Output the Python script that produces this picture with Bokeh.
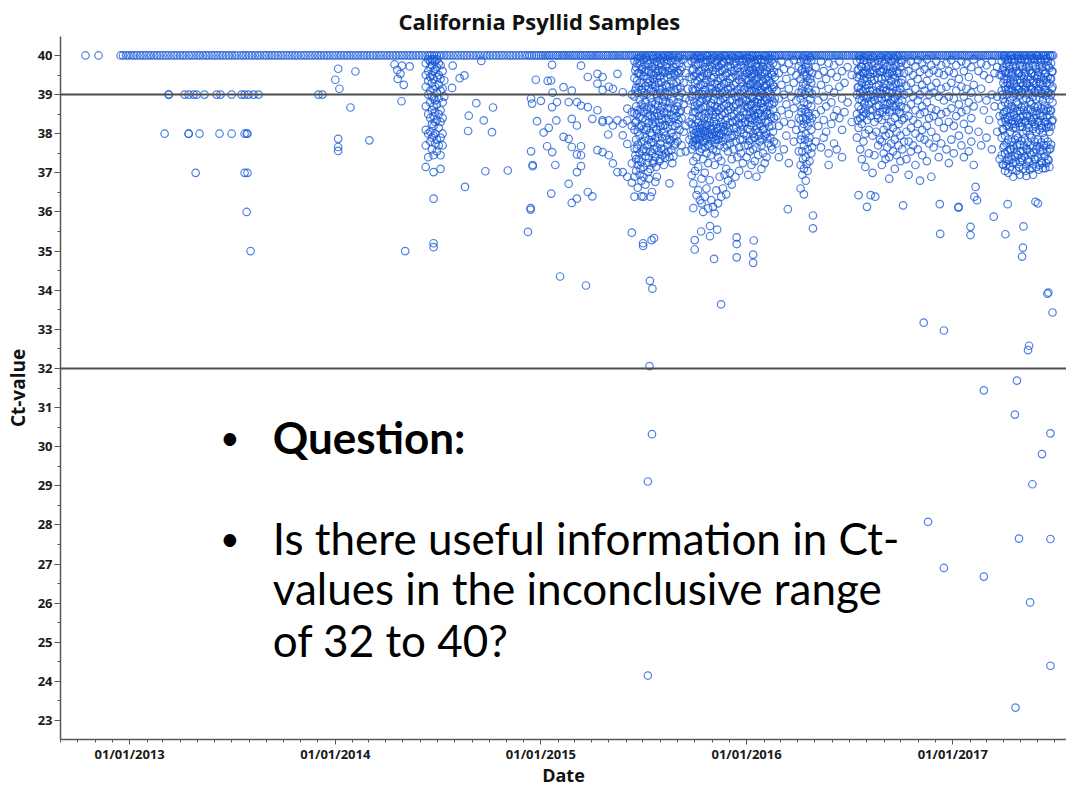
from datetime import datetime
from bokeh.plotting import figure
from bokeh.models import ColumnDataSource, Range1d, Span, Label, FixedTicker, DatetimeTickFormatter
from bokeh.embed import file_html
from bokeh.resources import INLINE

# ---------------- data ----------------
# Sampling dates with Ct = 40 (no amplification), as offsets within each year
band40_2012 = [.786, .849, .956, .968, .983, .995]
band40_2013 = [.009, .022, .036, .051, .063, .078, .092, .104, .119, .133, .146, .161, .175, .188, .203, .217,
               .230, .246, .259, .272, .288, .301, .315, .330, .342, .357, .371, .384, .399, .413, .427, .441,
               .454, .469, .483, .497, .511, .524, .540, .553, .566, .581, .595, .609, .623, .636, .652, .665,
               .679, .693, .706, .721, .735, .748, .763, .777, .791, .805, .818, .833, .847, .860, .875, .889,
               .903, .917, .930, .945, .959, .972, .987]
band40_2014 = [.001, .015, .028, .043, .057, .070, .085, .099, .112, .127, .141, .154, .169, .183, .197, .211,
               .224, .239, .253, .266, .281, .295, .309, .323, .336, .351, .365, .378, .393, .407, .421, .435,
               .449, .460, .471, .482, .493, .504, .515, .529, .543, .556, .571, .585, .598, .613, .627, .640,
               .655, .669, .683, .697, .710, .725, .739, .752, .767, .781, .795, .809, .822, .837, .851, .864,
               .879, .893, .907, .921, .934, .945, .956, .967, .978, .989]
band40_2015 = [.000, .010, .021, .031, .040, .051, .061, .072, .081, .091, .102, .112, .121, .132, .142, .153,
               .162, .172, .183, .193, .202, .213, .223, .234, .243, .253, .264, .274, .283, .294, .304, .315,
               .324, .334, .345, .355, .364, .375, .385, .396, .405, .415, .426, .436, .445, .456, .466, .477,
               .486, .496, .507, .517, .526, .537, .547, .558, .567, .577, .588, .598, .607, .618, .628, .639,
               .648, .658, .669, .679, .688, .699, .709, .720, .729, .739, .750, .760, .769, .780, .790, .801,
               .810, .820, .831, .841, .850, .861, .871, .882, .891, .901, .912, .922, .931, .942, .952, .963,
               .972, .982, .993]
band40_2016 = [.003, .013, .024, .034, .043, .054, .064, .075, .084, .094, .105, .115, .124, .135, .145, .156,
               .165, .175, .186, .196, .205, .216, .226, .237, .246, .256, .267, .277, .286, .297, .307, .318,
               .327, .337, .348, .358, .367, .378, .388, .399, .408, .418, .429, .439, .448, .459, .469, .480,
               .489, .499, .510, .520, .529, .540, .550, .561, .570, .580, .591, .601, .610, .621, .631, .642,
               .651, .661, .672, .682, .691, .702, .712, .723, .732, .742, .753, .763, .772, .783, .793, .804,
               .813, .823, .834, .844, .853, .864, .874, .885, .894, .904, .915, .925, .934, .945, .955, .966,
               .975, .985, .996]
band40_2017 = [.006, .016, .027, .037, .046, .057, .067, .078, .087, .097, .108, .118, .127, .138, .148, .159,
               .168, .178, .189, .199, .208, .219, .229, .240, .249, .259, .270, .280, .289, .300, .310, .321,
               .330, .340, .351, .361, .370, .381, .391, .402, .411, .421, .432, .442, .451, .462, .472, .481,
               .488]

# Samples with Ct below 40: (offset within year, [Ct-values on that date])
ct_2013 = [
    (.170, [38]), (.190, [39, 39]), (.267, [39]), (.287, [39, 38, 38]), (.311, [39]), (.321, [37]),
    (.326, [39]), (.340, [38]), (.364, [39]), (.423, [39]), (.437, [38]), (.442, [39]), (.496, [39, 38]),
    (.544, [39]), (.559, [39, 38, 37]), (.569, [38, 36]), (.573, [38, 37]), (.578, [39]), (.588, [35]),
    (.603, [39]), (.627, [39]), (.918, [39]), (.938, [39]),
]
ct_2014 = [
    (.000, [39.38]), (.014, [39.66, 37.87, 37.66, 37.56]), (.020, [39.15]), (.074, [38.67]),
    (.098, [39.59]), (.166, [37.83]), (.288, [39.77]), (.301, [39.63]), (.304, [39.40]), (.317, [39.53]),
    (.322, [38.83]), (.325, [39.74]), (.333, [39.25]), (.340, [35.00]), (.362, [39.72]),
    (.440, [39.80, 39.50, 39.20, 38.70, 38.10, 37.70, 37.15]),
    (.452, [39.90, 39.60, 39.35, 39.00, 38.50, 38.00, 37.40]),
    (.462, [39.85, 39.70, 39.45, 39.10, 38.80, 38.40, 38.05, 37.80]),
    (.470, [39.90, 39.75, 39.50, 39.30, 38.95, 38.60, 38.25, 37.90, 37.60]),
    (.478, [39.90, 39.60, 39.40, 39.15, 38.90, 38.70, 38.45, 38.20, 37.95, 37.45, 37.02, 36.34, 35.20, 35.10]),
    (.486, [39.85, 39.65, 39.20, 38.85, 38.55, 38.30, 38.00, 37.75]),
    (.494, [39.90, 39.70, 39.45, 39.05, 38.75, 38.35, 37.85, 37.55]),
    (.503, [39.80, 39.50, 39.25, 38.90, 38.50, 38.15, 37.70]),
    (.512, [39.75, 39.40, 39.10, 38.60, 38.30, 37.90, 37.45, 37.10]),
    (.522, [39.60, 39.15, 38.80, 38.40, 38.00, 37.70]),
    (.530, [39.36, 38.95]), (.568, [39.17]), (.571, [39.74]), (.605, [39.42]), (.628, [39.49]),
    (.631, [36.64]), (.646, [38.07]), (.649, [38.46]), (.686, [38.78]), (.710, [39.86]), (.722, [38.34]),
    (.730, [37.04]), (.762, [38.04]), (.767, [38.67]), (.839, [37.06]), (.937, [35.49]),
    (.950, [36.10, 36.06]), (.952, [38.90, 37.55]), (.957, [38.77]), (.960, [37.20, 37.17]),
    (.975, [39.38]), (.981, [38.32]),
]
ct_2015 = [
    (.000, [38.84]), (.013, [38.03]), (.030, [37.68]), (.033, [39.35]), (.038, [38.15]), (.049, [39.36]),
    (.050, [36.47]), (.054, [39.76, 38.68]), (.055, [37.53]), (.057, [39.05]), (.070, [37.20]),
    (.075, [38.34]), (.078, [38.81]), (.093, [34.35]), (.110, [39.19, 37.92]),
    (.135, [38.81, 37.87, 36.72]), (.150, [39.10, 38.38, 37.66, 36.23]),
    (.175, [38.81, 38.21, 37.47, 37.02, 36.34]), (.195, [39.74, 38.72, 37.68, 37.45, 37.17]),
    (.219, [34.12]), (.228, [39.45, 38.68, 36.51]), (.250, [38.38, 36.40]),
    (.275, [39.53, 39.28, 38.60, 37.58]), (.300, [39.45, 39.12, 38.34, 38.30, 37.53]), (.327, [37.98]),
    (.330, [39.20, 38.34, 37.45]), (.350, [39.15, 38.21, 37.24]), (.372, [39.53, 38.34, 37.02]),
    (.398, [39.06, 38.26, 37.96, 37.02]), (.420, [38.34, 38.64, 37.74, 36.90]),
    (.442, [39.00, 38.55, 38.20, 37.24, 36.75, 35.47]),
    (.455, [39.85, 39.42, 38.95, 38.52, 38.10, 37.62, 36.90, 36.39]),
    (.459, [39.62, 39.10, 38.28, 37.45]),
    (.463, [39.70, 39.18, 38.70, 38.31, 37.85, 37.35, 37.05]),
    (.467, [39.80, 39.35, 38.50, 37.62]),
    (.471, [39.92, 39.55, 39.05, 38.60, 38.05, 37.72, 37.20, 36.62]),
    (.476, [39.55, 39.20, 38.18, 37.35]),
    (.480, [39.80, 39.30, 38.88, 38.42, 37.95, 37.50, 36.95]),
    (.484, [39.95, 39.52, 38.62, 37.10]),
    (.489, [39.65, 39.12, 38.75, 38.20, 37.80, 37.28, 36.80, 36.40]),
    (.494, [39.70, 39.30, 38.40, 37.55]),
    (.497, [35.20, 35.13]),
    (.499, [39.90, 39.48, 38.98, 38.55, 38.12, 37.60, 37.15, 36.90, 36.39]),
    (.503, [39.58, 39.05, 38.68, 37.82]),
    (.508, [39.75, 39.22, 38.82, 38.35, 37.90, 37.42, 36.70]),
    (.512, [39.95, 39.62, 38.10, 37.55]),
    (.517, [39.88, 39.40, 39.02, 38.60, 38.15, 37.70, 37.25]),
    (.520, [29.11, 24.15]),
    (.521, [39.78, 39.30, 38.45, 37.02]),
    (.525, [39.60, 39.15, 38.70, 38.28, 37.85, 37.38, 36.85]),
    (.528, [32.06]), (.530, [34.24]),
    (.532, [39.82, 39.35, 38.92, 38.48, 38.02, 37.55, 37.10, 36.39]),
    (.536, [39.55, 39.10, 38.65, 37.78]),
    (.538, [35.28]),
    (.540, [39.70, 39.25, 38.80, 38.40, 37.95, 37.50, 36.51, 30.32]),
    (.542, [34.04]),
    (.544, [39.98, 39.40, 38.25, 37.25]),
    (.548, [39.92, 39.50, 39.08, 38.62, 38.18, 37.78, 37.30]),
    (.550, [35.33]),
    (.552, [39.78, 39.32, 38.45, 37.60]),
    (.556, [39.65, 39.20, 38.75, 38.30, 37.88, 37.40, 36.77]),
    (.560, [39.55, 39.02, 38.12, 37.15]),
    (.564, [39.85, 39.42, 38.98, 38.52, 38.10, 37.65, 36.90]),
    (.568, [39.95, 39.60, 38.72, 37.90]),
    (.572, [39.75, 39.30, 38.85, 38.45, 38.00, 37.55]),
    (.576, [39.62, 39.12, 38.28, 37.30]),
    (.580, [39.90, 39.48, 39.05, 38.60, 38.20, 37.75, 37.35]),
    (.585, [39.80, 39.32, 38.48, 37.62]),
    (.589, [39.62, 39.18, 38.70, 38.35, 37.90, 37.45]),
    (.594, [39.95, 39.58, 38.82, 38.20]),
    (.598, [39.85, 39.40, 38.95, 38.55, 38.05, 37.60, 37.20]),
    (.603, [39.55, 39.05, 38.22, 37.38]),
    (.607, [39.72, 39.25, 38.82, 38.40, 37.95, 37.50]),
    (.612, [39.78, 39.20, 38.52, 37.85]),
    (.616, [39.90, 39.45, 39.00, 38.65, 38.15, 37.70]),
    (.620, [39.98, 39.60, 38.38, 37.55]),
    (.625, [39.68, 39.20, 38.78, 38.30, 37.85, 37.40, 36.73]),
    (.630, [39.50, 39.08, 38.65, 37.80]),
    (.634, [39.85, 39.35, 38.90, 38.48, 38.02, 37.58]),
    (.639, [39.95, 39.62, 38.20, 37.25]),
    (.644, [39.70, 39.28, 38.85, 38.40, 37.92, 37.42]),
    (.649, [39.55, 39.12, 38.62, 37.70]),
    (.654, [39.88, 39.50, 39.05, 38.60, 38.20, 37.75]),
    (.659, [39.78, 39.32, 38.45, 37.95]),
    (.664, [39.60, 39.15, 38.70, 38.25, 37.80]),
    (.669, [39.95, 39.55, 38.80, 38.35]),
    (.674, [39.80, 39.38, 38.95, 38.55, 38.10]),
    (.679, [39.62, 39.18, 38.60, 37.52]),
    (.684, [39.70, 39.05, 38.40, 37.70]), (.694, [39.90, 39.30, 38.75, 38.05]),
    (.704, [39.55, 38.90, 38.20, 37.55]), (.714, [39.80, 39.15, 38.60]),
    (.722, [39.45, 38.85, 38.30, 37.85]),
    (.733, [39.85, 39.40, 38.95, 38.25, 37.95, 37.60, 36.94]),
    (.737, [39.62, 39.15, 38.40, 37.72]),
    (.741, [39.65, 39.10, 38.55, 38.10, 37.80, 37.30, 36.73, 36.10]),
    (.745, [39.95, 39.48, 38.82, 38.00]),
    (.748, [35.28, 35.04]),
    (.749, [39.90, 39.30, 38.70, 38.20, 37.90, 37.68, 37.05]),
    (.753, [39.75, 39.10, 38.55, 37.85]),
    (.757, [39.55, 38.98, 38.35, 38.05, 37.75, 37.40, 36.43]),
    (.761, [39.98, 39.35, 38.75, 38.12]),
    (.765, [39.78, 39.20, 38.62, 38.28, 37.98, 37.70, 37.15, 36.56]),
    (.769, [39.60, 39.02, 38.45, 37.88]),
    (.773, [39.92, 39.45, 38.80, 38.15, 37.85, 37.55, 36.30]),
    (.777, [39.80, 39.25, 38.65, 38.02]),
    (.779, [35.50]),
    (.781, [39.60, 39.02, 38.45, 38.22, 37.92, 37.62, 36.85, 36.22]),
    (.785, [39.95, 39.48, 38.90, 38.15]),
    (.789, [39.82, 39.25, 38.68, 38.08, 37.78, 37.35, 36.00]),
    (.793, [39.55, 39.00, 38.40, 37.82]),
    (.797, [39.70, 39.12, 38.50, 38.25, 37.95, 37.65, 37.00, 36.39]),
    (.801, [39.82, 39.30, 38.70, 38.05]),
    (.805, [39.88, 39.38, 38.85, 38.18, 37.88, 37.50, 36.60]),
    (.809, [39.98, 39.52, 38.92, 38.22]),
    (.813, [39.55, 38.95, 38.40, 38.02, 37.72, 37.25, 36.09]),
    (.817, [39.65, 39.05, 38.50, 37.92]),
    (.821, [39.75, 39.18, 38.60, 38.28, 37.98, 37.68, 36.81]),
    (.822, [35.64, 35.38]),
    (.825, [39.88, 39.32, 38.72, 38.10]),
    (.829, [39.92, 39.42, 38.78, 38.12, 37.82, 37.45, 36.30]),
    (.833, [39.70, 39.15, 38.58, 37.98]),
    (.837, [39.62, 39.05, 38.48, 38.20, 37.90, 37.60, 36.13]),
    (.841, [39.95, 39.45, 38.88, 38.32]),
    (.842, [34.80]),
    (.845, [39.80, 39.28, 38.70, 38.05, 37.75, 37.20, 35.96]),
    (.849, [39.58, 39.02, 38.42, 37.85]),
    (.853, [39.68, 39.10, 38.55, 38.25, 37.95, 37.55, 36.55]),
    (.857, [35.55, 39.85, 39.25, 38.68, 38.12]),
    (.861, [39.90, 39.35, 38.82, 38.15, 37.85, 37.40, 36.22]),
    (.865, [39.72, 39.18, 38.60, 37.95]),
    (.869, [39.58, 39.00, 38.42, 38.00, 37.70, 36.90]),
    (.873, [39.95, 39.42, 38.85, 38.18]),
    (.876, [33.64]),
    (.877, [39.78, 39.20, 38.65, 38.30, 37.98, 37.30, 36.39]),
    (.881, [39.62, 39.05, 38.48, 37.90]),
    (.885, [39.85, 39.45, 38.90, 38.18, 37.80, 36.60]),
    (.889, [39.82, 39.28, 38.72, 38.08]),
    (.893, [39.65, 39.08, 38.52, 38.10, 37.65, 36.95]),
    (.897, [39.98, 39.50, 38.95, 38.35]),
    (.901, [39.90, 39.30, 38.75, 38.22, 37.88, 37.10, 36.45]),
    (.905, [39.55, 39.02, 38.40, 37.70]),
    (.910, [39.72, 39.15, 38.60, 38.05, 37.55, 36.80]),
    (.914, [39.90, 39.30, 38.70, 38.15]),
    (.919, [39.85, 39.40, 38.85, 38.28, 37.75, 37.00]),
    (.923, [39.70, 39.18, 38.62, 37.90]),
    (.928, [39.60, 39.05, 38.45, 37.95, 37.35, 36.70]),
    (.932, [39.95, 39.45, 38.85, 38.30]),
    (.937, [39.80, 39.25, 38.70, 38.15, 37.60]),
    (.941, [39.60, 39.05, 38.50, 37.95]),
    (.946, [39.92, 39.50, 38.95, 38.35, 37.80, 36.90]),
    (.950, [39.82, 39.30, 38.75, 38.15]),
    (.952, [35.35, 35.18, 34.84]),
    (.955, [39.68, 39.12, 38.58, 38.05, 37.40]),
    (.959, [39.98, 39.50, 38.95, 38.40]),
    (.964, [39.88, 39.38, 38.80, 38.25, 37.65, 37.05]),
    (.968, [39.58, 39.02, 38.45, 37.85]),
    (.973, [39.75, 39.20, 38.65, 38.10, 37.50]),
    (.977, [39.85, 39.32, 38.78, 38.22]),
    (.982, [39.90, 39.45, 38.90, 38.40, 37.85, 37.25]),
    (.986, [39.68, 39.12, 38.55, 38.00]),
    (.991, [39.62, 39.15, 38.72, 38.28, 37.70]),
    (.995, [39.92, 39.40, 38.85, 38.30]),
]
ct_2016 = [
    (.000, [39.85, 39.55, 39.20, 38.85, 38.50, 37.95, 37.40]),
    (.004, [39.95, 39.38, 38.68, 38.12]),
    (.008, [39.70, 39.35, 39.00, 38.65, 38.30, 37.70, 36.95]),
    (.012, [39.62, 39.10, 38.40, 37.82]),
    (.016, [39.92, 39.60, 39.25, 38.90, 38.55, 38.10, 37.55]),
    (.020, [39.82, 39.28, 38.72, 38.22]),
    (.024, [39.78, 39.45, 39.10, 38.75, 38.40, 37.85, 37.20]),
    (.028, [39.98, 39.52, 38.92, 38.35]),
    (.032, [39.65, 39.30, 38.95, 38.60, 38.00, 37.60, 34.91, 34.70]),
    (.035, [35.27]),
    (.036, [39.55, 39.08, 38.48, 37.90]),
    (.040, [39.88, 39.52, 39.18, 38.82, 38.45, 37.90, 37.30]),
    (.044, [39.78, 39.25, 38.62, 38.10]),
    (.048, [39.72, 39.40, 39.05, 38.70, 38.20, 37.65, 36.90]),
    (.052, [39.98, 39.45, 38.80, 38.32]),
    (.056, [39.90, 39.58, 39.22, 38.88, 38.52, 38.05, 37.45]),
    (.060, [39.70, 39.12, 38.52, 37.95]),
    (.064, [39.62, 39.28, 38.95, 38.60, 38.25, 37.80]),
    (.068, [39.90, 39.35, 38.78, 38.20]),
    (.072, [39.82, 39.48, 39.12, 38.78, 38.35, 37.70, 37.10]),
    (.076, [39.58, 39.05, 38.45, 37.85]),
    (.080, [39.70, 39.35, 39.00, 38.65, 38.10, 37.50]),
    (.084, [39.82, 39.22, 38.68, 38.12]),
    (.088, [39.88, 39.55, 39.20, 38.85, 38.45, 37.95, 37.25]),
    (.092, [39.98, 39.40, 38.95, 38.30]),
    (.097, [39.60, 39.25, 38.90, 38.55, 38.00, 37.40]),
    (.101, [39.70, 39.10, 38.50, 37.88]),
    (.106, [39.80, 39.45, 39.10, 38.70, 38.30, 37.75]),
    (.110, [39.92, 39.35, 38.78, 38.18]),
    (.115, [39.68, 39.30, 38.92, 38.50, 37.90]),
    (.119, [39.55, 39.02, 38.42, 37.68]),
    (.124, [39.90, 39.50, 39.15, 38.75, 38.20, 37.60]),
    (.128, [39.80, 39.25, 38.62, 38.05]),
    (.133, [39.58, 39.20, 38.80, 38.40, 37.80]),
    (.137, [39.98, 39.45, 38.90]),
    (.145, [39.75, 39.10, 38.45, 37.75]), (.157, [39.55, 38.90, 38.20, 37.40]),
    (.169, [39.85, 39.25, 38.60]), (.181, [39.65, 39.00, 38.30, 37.60]), (.193, [39.40, 38.75, 37.95]),
    (.200, [36.07]), (.205, [39.80, 39.15, 38.50, 37.25]), (.217, [39.60, 38.95, 38.25]),
    (.229, [39.88, 39.30, 38.65, 37.80]), (.241, [39.50, 38.85, 38.10]), (.253, [39.72, 39.05, 38.40, 37.55]),
    (.262, [39.85, 39.40, 38.90, 38.35, 37.85, 37.20, 36.60]),
    (.266, [39.62, 39.05, 38.55, 37.95]),
    (.270, [39.65, 39.15, 38.65, 38.15, 37.55, 36.95]),
    (.274, [39.95, 39.28, 38.40, 37.35]),
    (.278, [39.90, 39.50, 38.80, 38.25, 37.70, 37.10, 36.45]),
    (.283, [39.58, 39.02, 38.62, 37.85]),
    (.287, [39.70, 39.25, 38.55, 38.00, 37.40, 36.80]),
    (.291, [39.88, 39.48, 38.35, 37.22]),
    (.296, [39.80, 39.35, 38.75, 38.20, 37.60, 37.05]),
    (.300, [39.68, 39.15, 38.52, 37.78]),
    (.305, [39.60, 39.05, 38.45, 37.90, 37.30]),
    (.309, [39.95, 39.40, 38.88, 38.30]),
    (.314, [39.88, 39.30, 38.70, 38.10, 37.50]),
    (.318, [39.55, 39.02, 38.40, 37.65]),
    (.322, [35.91, 35.58]),
    (.335, [39.70, 39.10, 38.50, 37.80]), (.348, [39.50, 38.85, 38.20]), (.361, [39.85, 39.25, 38.60, 37.65]),
    (.374, [39.60, 38.95, 38.35, 37.90]), (.386, [39.40, 38.70, 38.05]), (.398, [39.80, 39.15, 37.50, 37.20]),
    (.411, [39.55, 38.80, 38.25]), (.424, [39.75, 39.05, 38.45, 37.75]), (.437, [39.45, 38.60, 37.60]),
    (.450, [39.85, 39.20, 38.40]), (.463, [39.60, 38.90, 38.10, 37.40]), (.475, [39.30, 38.55]),
    (.490, [39.70, 38.80]), (.510, [39.50, 38.30]),
    (.535, [39.85, 39.45, 39.00, 38.50, 37.90]), (.539, [39.62, 39.18, 38.35]),
    (.543, [39.65, 39.20, 38.70, 38.15, 36.43]), (.547, [39.98, 39.42, 38.88]),
    (.551, [39.90, 39.50, 39.05, 38.40, 37.60]), (.555, [39.72, 39.15, 38.62]),
    (.559, [39.70, 39.30, 38.85, 38.25, 37.35]), (.563, [39.55, 39.08, 38.45]),
    (.567, [39.88, 39.40, 38.95, 38.55, 37.80]), (.571, [39.95, 39.55, 38.78]),
    (.576, [39.60, 39.15, 38.65, 38.00, 37.15]), (.580, [39.70, 39.25, 38.52]),
    (.584, [39.82, 39.35, 38.90, 38.35, 36.13]), (.589, [39.98, 39.52, 38.98]),
    (.593, [39.72, 39.25, 38.75, 38.10, 37.50]), (.598, [39.58, 39.10, 38.60]),
    (.602, [39.90, 39.45, 39.00, 38.45, 36.43]), (.606, [39.80, 39.35, 38.82]),
    (.611, [39.62, 39.10, 38.60, 37.95, 37.00]), (.615, [39.95, 39.55, 38.95]),
    (.620, [39.80, 39.38, 38.85, 38.30, 37.45]), (.624, [36.39]), (.629, [39.68, 39.20, 38.70, 38.05]),
    (.633, [39.55, 39.05, 38.48]), (.638, [39.88, 39.42, 38.92, 38.40, 37.70]),
    (.642, [39.75, 39.25, 38.72]), (.647, [39.58, 39.12, 38.55, 37.85]), (.651, [39.95, 39.60, 39.02]),
    (.656, [39.85, 39.40, 38.90, 38.35, 37.80, 37.20]), (.660, [39.58, 39.02, 38.55]),
    (.665, [39.65, 39.18, 38.65, 38.10, 37.50]), (.669, [39.78, 39.28, 38.75]),
    (.674, [39.90, 39.45, 38.95, 38.45, 37.95, 37.35]), (.678, [39.55, 39.10, 38.62]),
    (.683, [39.72, 39.25, 38.75, 38.20, 37.65]), (.687, [39.95, 39.48, 38.95]),
    (.692, [39.55, 39.05, 38.55, 38.00, 37.40, 36.85]), (.696, [39.72, 39.22, 38.78]),
    (.701, [39.85, 39.35, 38.85, 38.30, 37.75]), (.705, [39.58, 39.05, 38.60]),
    (.710, [39.68, 39.20, 38.70, 38.15, 37.55]), (.714, [39.95, 39.50, 38.88]),
    (.719, [39.90, 39.42, 38.92, 38.40, 37.85, 37.10]), (.723, [39.75, 39.28, 38.70]),
    (.728, [39.60, 39.10, 38.60, 38.05, 37.45]), (.732, [39.98, 39.55, 39.00]),
    (.737, [39.80, 39.30, 38.80, 38.25, 37.70]), (.741, [39.55, 39.05, 38.55]),
    (.746, [39.70, 39.15, 38.50, 37.95, 37.30]), (.750, [39.82, 39.30, 38.70]),
    (.755, [39.88, 39.38, 38.85, 38.35, 37.60]),
    (.759, [36.17]), (.764, [39.55, 39.00, 38.40, 37.80]),
    (.775, [39.78, 39.22, 38.65, 38.05, 37.35]), (.786, [39.60, 39.05, 38.45, 37.80, 36.95]),
    (.797, [39.85, 39.30, 38.75, 38.15, 37.55]), (.808, [39.50, 38.95, 38.35, 37.70]),
    (.819, [39.72, 39.15, 38.60, 38.00, 37.20]), (.830, [39.88, 39.40, 38.85, 38.25, 37.60]),
    (.841, [39.58, 39.00, 38.50, 37.90, 36.80]), (.852, [39.80, 39.25, 38.70, 38.10, 37.45]),
    (.859, [33.17]), (.863, [39.65, 39.10, 38.55, 37.85]), (.874, [39.90, 39.35, 38.80, 38.20, 37.30]),
    (.880, [28.08]), (.885, [39.55, 39.00, 38.40, 37.75]), (.896, [39.75, 39.20, 38.65, 38.05, 36.90]),
    (.907, [39.62, 39.05, 38.45, 37.65]),
    (.920, [39.85, 39.30, 38.60, 37.90]), (.932, [39.55, 38.95, 38.30, 37.40]), (.937, [36.20]),
    (.939, [35.44]), (.944, [39.75, 39.15, 38.50, 37.75]), (.957, [39.50, 38.85, 38.15, 32.97, 26.90]),
    (.969, [39.80, 39.20, 38.55, 37.60]), (.981, [39.60, 38.95, 38.30, 37.25]),
    (.993, [39.88, 39.30, 38.65, 37.85]),
]
ct_2017 = [
    (.005, [39.55, 38.90, 38.20, 37.50]), (.017, [39.75, 39.10, 38.45]), (.028, [36.13, 36.11]),
    (.030, [39.40, 38.75, 37.95]), (.042, [39.85, 39.20, 38.55, 37.70]), (.054, [39.60, 38.95, 38.25, 37.40]),
    (.066, [39.80, 39.15, 38.60]), (.078, [39.45, 38.80, 38.10, 37.55]), (.086, [35.62, 35.41]),
    (.090, [39.70, 39.05, 38.40, 37.80]), (.102, [39.90, 39.25, 38.70, 37.20]), (.105, [36.39]),
    (.111, [36.64]), (.118, [36.30]),
    (.125, [39.60, 38.90, 38.05]), (.138, [39.80, 39.15, 37.70]), (.151, [39.50, 38.60, 31.44, 26.68]),
    (.164, [39.75, 38.85, 37.90]), (.177, [39.40, 38.35]), (.190, [39.85, 39.00, 37.60]), (.199, [35.88]),
    (.203, [39.55, 38.70]), (.216, [39.70, 38.95, 38.05]), (.228, [39.50, 38.45, 37.35]),
    (.238, [39.85, 39.50, 39.10, 38.70, 38.30, 37.90, 37.45]),
    (.242, [39.62, 39.00, 38.12, 37.22]),
    (.246, [39.70, 39.30, 38.90, 38.50, 38.10, 37.65, 37.20]),
    (.250, [39.98, 39.40, 38.55, 37.70]),
    (.254, [39.92, 39.60, 39.20, 38.80, 38.40, 37.95, 37.50, 37.05]),
    (.256, [35.43]),
    (.258, [39.55, 39.12, 38.30, 37.18]),
    (.262, [39.78, 39.40, 39.00, 38.60, 38.20, 37.75, 37.30]),
    (.266, [39.90, 39.30, 38.42, 37.55]),
    (.267, [36.20]),
    (.270, [39.88, 39.55, 39.15, 38.75, 38.35, 37.85, 37.40, 37.00]),
    (.274, [39.72, 39.10, 38.18, 37.32]),
    (.278, [39.65, 39.25, 38.85, 38.45, 38.05, 37.60, 37.15]),
    (.282, [39.98, 39.38, 38.62, 37.60]),
    (.286, [39.90, 39.50, 39.10, 38.70, 38.25, 37.80, 37.35]),
    (.290, [39.58, 39.15, 38.35, 37.08]),
    (.294, [39.72, 39.35, 38.95, 38.55, 38.15, 37.70, 37.25, 36.90]),
    (.298, [39.92, 39.28, 38.48, 37.62]),
    (.302, [39.85, 39.45, 39.05, 38.65, 38.25, 37.85, 37.40, 30.82]),
    (.305, [23.33]),
    (.306, [39.70, 39.02, 38.15, 37.28]),
    (.310, [39.60, 39.20, 38.80, 38.40, 37.95, 37.50, 37.05]),
    (.312, [31.69]),
    (.314, [39.98, 39.38, 38.58, 37.72]),
    (.318, [39.92, 39.55, 39.15, 38.75, 38.35, 37.90, 37.45]),
    (.322, [27.65, 39.55, 39.12, 38.28, 37.15]),
    (.326, [39.75, 39.38, 38.98, 38.58, 38.18, 37.72, 37.28, 36.95]),
    (.330, [39.92, 39.30, 38.42, 37.55]),
    (.334, [39.88, 39.48, 39.08, 38.68, 38.28, 37.82, 37.38]),
    (.337, [34.86]), (.341, [35.09]), (.344, [35.63]),
    (.338, [39.72, 39.05, 38.18, 37.32]),
    (.342, [39.65, 39.25, 38.85, 38.45, 38.00, 37.55, 37.10]),
    (.346, [39.98, 39.40, 38.60, 37.68]),
    (.350, [39.90, 39.52, 39.12, 38.72, 38.32, 37.88, 37.42]),
    (.354, [39.58, 39.18, 38.32, 37.05]),
    (.358, [39.70, 39.30, 38.90, 38.50, 38.08, 37.62, 37.18, 36.92]),
    (.362, [39.92, 39.28, 38.45, 37.58]),
    (.366, [39.85, 39.45, 39.05, 38.62, 38.22, 37.78, 37.32, 32.47]),
    (.370, [39.70, 39.02, 38.15, 37.28]),
    (.371, [32.58]),
    (.374, [39.62, 39.22, 38.82, 38.42, 37.98, 37.52, 37.08]),
    (.376, [26.02]),
    (.378, [39.98, 39.38, 38.62, 37.70]),
    (.382, [39.92, 39.55, 39.15, 38.75, 38.35, 37.90, 37.45]),
    (.386, [39.55, 39.12, 38.30, 37.12]),
    (.387, [29.04]),
    (.390, [39.75, 39.35, 38.95, 38.55, 38.12, 37.68, 37.22, 36.95]),
    (.394, [39.92, 39.30, 38.40, 37.52]),
    (.398, [39.88, 39.48, 39.08, 38.68, 38.25, 37.80, 37.35]),
    (.402, [36.26, 39.72, 39.05, 38.18, 37.35]),
    (.406, [39.65, 39.28, 38.88, 38.48, 38.05, 37.60, 37.15]),
    (.410, [39.98, 39.40, 38.58, 37.68]),
    (.414, [39.90, 39.50, 39.10, 38.70, 38.30, 37.85, 37.40, 36.22]),
    (.418, [39.58, 39.15, 38.32, 37.08]),
    (.422, [39.72, 39.32, 38.92, 38.52, 38.10, 37.65, 37.20]),
    (.426, [39.92, 39.28, 38.45, 37.55]),
    (.430, [39.85, 39.45, 39.05, 38.65, 38.22, 37.78, 37.30]),
    (.434, [29.81, 39.70, 39.02, 38.15, 37.25]),
    (.438, [39.62, 39.25, 38.85, 38.45, 38.02, 37.58, 37.12]),
    (.442, [39.98, 39.38, 38.62, 37.70]),
    (.446, [39.90, 39.52, 39.12, 38.72, 38.30, 37.88, 37.42]),
    (.450, [39.55, 39.12, 38.30, 37.12]),
    (.454, [39.75, 39.38, 38.98, 38.58, 38.15, 37.70, 37.25]),
    (.458, [39.92, 39.30, 38.42, 37.55]),
    (.460, [33.91]),
    (.462, [39.85, 39.45, 39.05, 38.65, 38.25, 37.80, 37.35]),
    (.465, [33.94]),
    (.466, [39.72, 39.05, 38.18, 37.32]),
    (.470, [39.68, 39.28, 38.88, 38.48, 38.05, 37.60, 37.15]),
    (.474, [39.98, 39.40, 38.58, 37.62]),
    (.475, [30.34, 27.64, 24.40]),
    (.478, [39.80, 39.40, 39.00, 38.60, 38.18, 37.72]),
    (.482, [39.58, 39.15, 38.32]),
    (.485, [39.60, 39.20, 38.80, 38.35, 33.43]),
]

y_tick_values = list(range(23, 41))
x_tick_years = [2013, 2014, 2015, 2016, 2017]
threshold_lines = [39, 32]

# ---------------- build ----------------
def to_dt(year, offset):
    start = datetime(year, 1, 1)
    end = datetime(year + 1, 1, 1)
    return start + (end - start) * offset

EPOCH = datetime(1970, 1, 1)
def ms(d):
    return (d - EPOCH).total_seconds() * 1000.0

band40 = {2012: band40_2012, 2013: band40_2013, 2014: band40_2014,
          2015: band40_2015, 2016: band40_2016, 2017: band40_2017}
cloud = {2013: ct_2013, 2014: ct_2014, 2015: ct_2015, 2016: ct_2016, 2017: ct_2017}

xs, ys = [], []
for yr, offs in band40.items():
    for o in offs:
        xs.append(to_dt(yr, o)); ys.append(40.0)
for yr, groups in cloud.items():
    for o, vals in groups:
        for v in vals:
            xs.append(to_dt(yr, o)); ys.append(float(v))

src = ColumnDataSource(data=dict(date=xs, ct=ys))

p = figure(width=1066, height=789, x_axis_type="datetime", output_backend="svg",
           toolbar_location=None,
           x_range=Range1d(to_dt(2012, .6647), to_dt(2017, .553)),
           y_range=Range1d(22.515, 40.485),
           min_border_left=60, min_border_right=0, min_border_top=36, min_border_bottom=49)
p.outline_line_color = None
p.xgrid.visible = False
p.ygrid.visible = False

p.title.text = "California Psyllid Samples"
p.title.align = "left"
p.title.offset = 338
p.title.text_font = "Open Sans"
p.title.text_font_size = "22px"
p.title.text_font_style = "bold"
p.title.text_color = "#111111"
p.title.standoff = 2

p.scatter(x="date", y="ct", source=src, marker="circle", size=7.5,
          fill_color=None, line_color="#1556d6", line_alpha=0.75, line_width=1.2)

for lv in threshold_lines:
    p.add_layout(Span(location=lv, dimension="width", line_color="#4d4d4d", line_width=2))

# axes
major = [ms(datetime(y, 1, 1)) for y in x_tick_years]
minor = [ms(datetime(y, m, 1)) for y in range(2012, 2018) for m in range(1, 13)]
p.xaxis.ticker = FixedTicker(ticks=major, minor_ticks=minor)
fmt = "%m/%d/%Y"
p.xaxis.formatter = DatetimeTickFormatter(years=fmt, months=fmt, days=fmt, hours=fmt,
                                          hourmin=fmt, minutes=fmt, minsec=fmt, seconds=fmt,
                                          milliseconds=fmt, microseconds=fmt)
p.yaxis.ticker = FixedTicker(ticks=y_tick_values, minor_ticks=[v + 0.5 for v in range(22, 41)])

for ax in (p.xaxis, p.yaxis):
    ax.axis_line_color = "#555555"
    ax.axis_line_width = 1.5
    ax.major_tick_line_color = "#555555"
    ax.minor_tick_line_color = "#555555"
    ax.major_tick_in = 0
    ax.minor_tick_in = 0
    ax.minor_tick_out = 3
    ax.major_label_text_font = "Open Sans"
    ax.major_label_text_font_style = "bold"
    ax.major_label_text_font_size = "13px"
    ax.major_label_text_color = "#1a1a1a"
    ax.major_label_text_line_height = 1.0
    ax.axis_label_text_font = "Open Sans"
    ax.axis_label_text_font_style = "bold"
    ax.axis_label_text_color = "#111111"
    ax.axis_label_text_line_height = 1.0

p.xaxis.axis_label = "Date"
p.xaxis.axis_label_text_font_size = "18px"
p.xaxis.major_tick_out = 5
p.xaxis.major_label_standoff = 0
p.xaxis.axis_label_standoff = -3
p.yaxis.axis_label = "Ct-value"
p.yaxis.axis_label_text_font_size = "19px"
p.yaxis.major_tick_out = 6
p.yaxis.major_label_standoff = 2
p.yaxis.axis_label_standoff = 4

# overlay text (anchors at the vertical middle of each line)
text_x = ms(to_dt(2013, .696))
bullet_x = ms(to_dt(2013, .487))
lines = [("Question:", 30.249, "bold", True), ("Is there useful information in Ct-", 27.671, "normal", True),
         ("values in the inconclusive range", 26.395, "normal", False), ("of 32 to 40?", 25.068, "normal", False)]
for txt, ym, style, bullet in lines:
    p.add_layout(Label(x=text_x, y=ym, text=txt, text_font="Lato", text_font_style=style,
                       text_font_size="44px", text_color="#000000", text_baseline="middle",
                       text_align="left"))
    if bullet:
        p.add_layout(Label(x=bullet_x, y=ym, text="\u2022", text_font="Lato", text_font_size="34px",
                           text_color="#000000", text_baseline="middle", text_align="center"))

open("out.html", "w").write(file_html(p, INLINE))
